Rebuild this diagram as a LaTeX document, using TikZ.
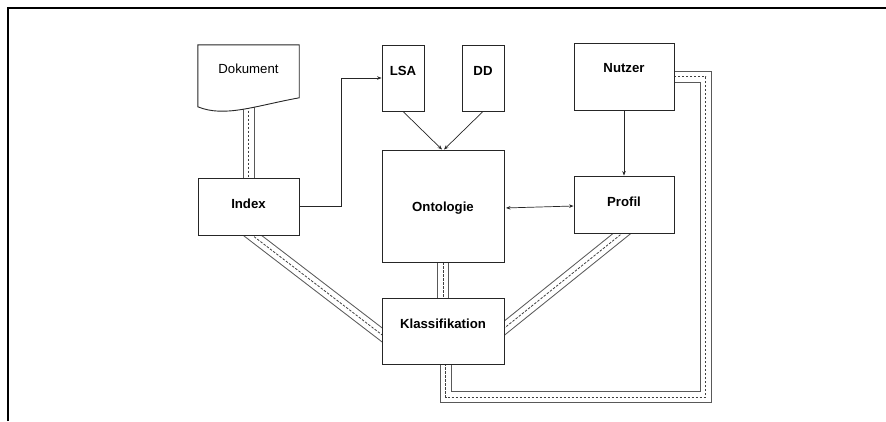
\documentclass[tikz,border=0pt]{standalone}
\usepackage{fontspec}
\setmainfont{Liberation Sans}
\usetikzlibrary{arrows.meta,calc,backgrounds}
\begin{document}
\begin{tikzpicture}[x=1pt,y=-1pt,
  box/.style={draw=black!85, line width=0.9pt, fill=white, inner sep=0pt},
  lbl/.style={font=\bfseries\fontsize{13.2}{15}\selectfont},
  arr/.style={draw=black!85, line width=0.7pt, -{Stealth[length=4.5pt,width=3.5pt]}},
  triple/.style={draw=white, line width=10pt, line join=miter,
    preaction={draw=gray!70!black, line width=12pt, line join=miter},
    postaction={draw=black!75, line width=0.8pt, dash pattern=on 2.5pt off 1.5pt}}]
\useasboundingbox (0,0) rectangle (886,421);
% frame
\draw[line width=2pt, line join=miter] (7.5,421) -- (7.5,7.5) -- (886,7.5);

% nodes
\node[inner sep=0pt, minimum width=101pt, minimum height=67pt] (dok) at (248.5,78.5) {};
\draw[box] (dok.north west) -- (dok.north east) -- ++(0,53)
  .. controls +(-44,8) and +(27,11) .. ($(dok.north west)+(0,62)$) -- cycle;
\node[font=\fontsize{13.2}{15}\selectfont] (doktext) at ($(dok.center)+(0,-9.5)$) {Dokument};

\node[box, minimum width=101pt, minimum height=57pt,
  label={[lbl,yshift=2.5pt]center:Index}] (idx) at (248.5,206.5) {};
\node[box, minimum width=42pt, minimum height=66pt,
  label={[lbl,yshift=7pt]center:LSA}] (lsa) at (403,78) {};
\node[box, minimum width=42pt, minimum height=66pt,
  label={[lbl,yshift=7pt]center:DD}] (dd) at (483,78) {};
\node[box, minimum width=100pt, minimum height=67pt,
  label={[lbl,yshift=8pt]center:Nutzer}] (nutz) at (624,76.5) {};
\node[box, minimum width=122pt, minimum height=112pt,
  label={[lbl,yshift=-2.3pt]center:Ontologie}] (onto) at (443,206) {};
\node[box, minimum width=100pt, minimum height=57pt,
  label={[lbl,yshift=2.3pt]center:Profil}] (prof) at (624,204.5) {};
\node[box, minimum width=122pt, minimum height=66pt,
  label={[lbl,yshift=7.2pt]center:Klassifikation}] (klass) at (443,331) {};

% thin connectors
\draw[arr] (idx.east) -- ++(42,0) |- (lsa.west);
\draw[arr] (lsa.south) -- ([xshift=-1pt]onto.north);
\draw[arr] (dd.south) -- ([xshift=1pt]onto.north);
\draw[arr] (nutz.south) -- (prof.north);
\draw[arr, {Stealth[length=4.5pt,width=3.5pt]}-{Stealth[length=4.5pt,width=3.5pt]}, shorten <=1.5pt]
  ([yshift=-2pt]onto.east) -- ([yshift=-1.5pt]prof.west);

% triple connectors
\coordinate (ik1) at ([xshift=4pt]idx.south);
\coordinate (ik2) at ([yshift=-3.5pt]klass.west);
\coordinate (pk1) at ([xshift=-2pt]prof.south);
\coordinate (pk2) at ([yshift=3pt]klass.east);
\coordinate (kr) at (705.5,397);
\begin{scope}[on background layer]
\draw[triple] (dok.center) -- (idx.center);
\draw[triple] (onto.center) -- (klass.center);
\draw[triple] ($(ik1)!-10pt!(ik2)$) -- ($(ik2)!-10pt!(ik1)$);
\draw[triple] ($(pk1)!-10pt!(pk2)$) -- ($(pk2)!-10pt!(pk1)$);
\draw[triple] ([xshift=2.5pt]klass.center) |- (kr) |- (nutz.center);
\end{scope}
\end{tikzpicture}
\end{document}
